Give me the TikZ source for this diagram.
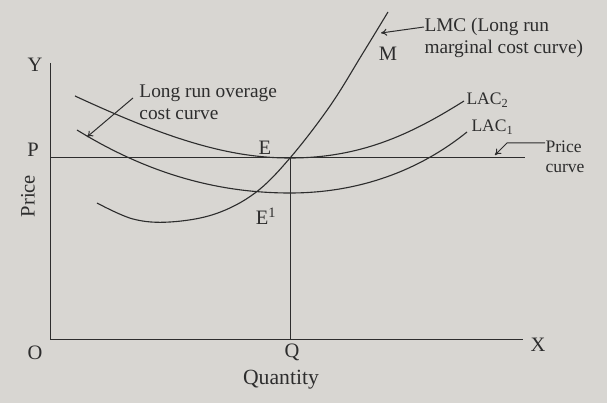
\documentclass[tikz,border=0pt]{standalone}
\usepackage{fontspec}
\setmainfont{Liberation Serif}
\usepackage{tikz}
\usetikzlibrary{arrows.meta,calc}
\definecolor{paper}{RGB}{216,214,210}
\definecolor{ink}{RGB}{45,45,45}

\begin{document}
\begin{tikzpicture}[x=0.03cm, y=-0.03cm, color=ink, line width=0.85pt,
  letter/.style={inner sep=0pt, font=\fontsize{17.5}{19}\selectfont},
  note/.style={inner sep=0pt, align=left, anchor=west, font=\fontsize{16.5}{18.5}\selectfont},
  small note/.style={inner sep=0pt, align=left, anchor=west, font=\fontsize{15}{17}\selectfont},
  cost curve/.style={line width=0.95pt},
  pointer/.style={-{To[length=5pt,width=6pt]}}]
\fill[paper] (0,0) rectangle (607,403);
\useasboundingbox (0,0) rectangle (607,403);
% axes and points
\coordinate (O) at (50,340);
\coordinate (Ytop) at (50,63);
\coordinate (Xend) at (523,340);
\coordinate (P) at (50,158);
\coordinate (Pend) at (525,158);
\coordinate (E) at (290,158);
\coordinate (Q) at (290,340);
\draw (Ytop) -- (O) -- (Xend);
\draw (P) -- (Pend);
\draw (E) -- (Q);
% labels on the axes
\node[letter] (ylab) at (35,65) {Y};
\node[letter] (plab) at (33,150) {P};
\node[letter] (olab) at (35,353) {O};
\node[letter] (xlab) at (538,345) {X};
\node[letter] (qlab) at (292,352) {Q};
\node[letter] (elab) at (265,148) {E};
\node[letter] (e1lab) at (266,216) {E\textsuperscript{1}};
\node[letter] (mlab) at (388,54) {M};
\node[inner sep=0pt, font=\fontsize{18.5}{20}\selectfont] (qty) at (281,380) {Quantity};
\node[inner sep=0pt, rotate=90, font=\fontsize{17.5}{19}\selectfont] (price) at (28,196) {Price};
% the curves
\draw[cost curve] (75,96) .. controls (170,140) and (230,158) .. (E)
  .. controls (360,158) and (410,135) .. (464,101);
\draw[cost curve] (77,130) .. controls (150,175) and (220,193) .. (290,193)
  .. controls (360,193) and (420,170) .. (467,132);
\draw[cost curve] plot[smooth, tension=0.6] coordinates {(97,203) (133,219) (170,222) (215,214) (255,193) (E) (330,106) (363,53) (388,12)};
% notes
\node[note] (lmc) at (424,38) {LMC (Long run\\marginal cost curve)};
\node[note] (lrac) at (139,102) {Long run overage\\cost curve};
\node[small note] (pc) at (545,157) {Price\\curve};
\node[small note] (lac2) at (466,100) {LAC\textsubscript{2}};
\node[small note] (lac1) at (471,127) {LAC\textsubscript{1}};
\draw[pointer] (lmc.west |- 0,27) -- (381,33);
\draw[pointer] (133,98) -- (87,137);
\draw[pointer] (pc.west |- 0,143) -- (507,143) -- (495,155);
\end{tikzpicture}
\end{document}
